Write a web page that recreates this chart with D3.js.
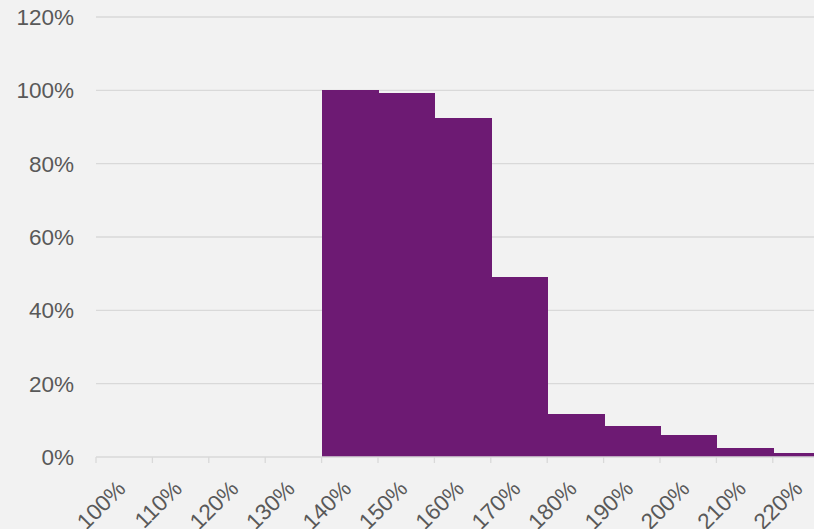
<!DOCTYPE html>
<html>
<head>
<meta charset="utf-8">
<script src="https://cdn.jsdelivr.net/npm/d3@7"></script>
<style>
  body { margin: 0; background: #f2f2f2; }
  text { font-family: "Liberation Sans", Arial, sans-serif; fill: #595959; }
</style>
</head>
<body>
<script>
var width = 814, height = 529;

// bins (lower edge, %) and share of cases (%)
var binStarts = [140, 150, 160, 170, 180, 190, 200, 210, 220];
var binValues = [100, 99.2, 92.4, 49.1, 11.7, 8.4, 6.0, 2.5, 1.1];
var xTicks = [100, 110, 120, 130, 140, 150, 160, 170, 180, 190, 200, 210, 220];
var yTicks = [0, 20, 40, 60, 80, 100, 120];

var svg = d3.select("body")
    .append("svg")
    .attr("width", width)
    .attr("height", height);

svg.append("rect")
    .attr("width", width)
    .attr("height", height)
    .attr("fill", "#f2f2f2");

var x = d3.scaleLinear()
    .domain([100, 230])
    .range([96, 96 + 13 * 56.4]);

var y = d3.scaleLinear()
    .domain([0, 120])
    .range([457, 17]);

// gridlines
svg.append("g")
    .selectAll("line")
    .data(yTicks.filter(function (d) { return d > 0; }))
    .enter()
    .append("line")
    .attr("x1", x(100))
    .attr("x2", width)
    .attr("y1", function (d) { return y(d); })
    .attr("y2", function (d) { return y(d); })
    .attr("stroke", "#d9d9d9")
    .attr("stroke-width", 1.3);

// y labels
svg.append("g")
    .selectAll("text")
    .data(yTicks)
    .enter()
    .append("text")
    .attr("x", 74)
    .attr("y", function (d) { return y(d); })
    .attr("dy", "0.35em")
    .attr("text-anchor", "end")
    .style("font-size", "22.5px")
    .text(function (d) { return d + "%"; });

// bars
svg.append("g")
    .attr("shape-rendering", "crispEdges")
    .selectAll("rect")
    .data(binStarts)
    .enter()
    .append("rect")
    .attr("x", function (d) { return x(d); })
    .attr("width", function (d) { return x(d + 10) - x(d) + 1; })
    .attr("y", function (d, i) { return y(binValues[i]); })
    .attr("height", function (d, i) { return y(0) - y(binValues[i]); })
    .attr("fill", "#6d1a73");

// x axis line and ticks
svg.append("line")
    .attr("x1", x(100))
    .attr("x2", width)
    .attr("y1", y(0))
    .attr("y2", y(0))
    .attr("stroke", "#d9d9d9")
    .attr("stroke-width", 1.3);

svg.append("g")
    .selectAll("line")
    .data(xTicks)
    .enter()
    .append("line")
    .attr("x1", function (d) { return x(d); })
    .attr("x2", function (d) { return x(d); })
    .attr("y1", y(0))
    .attr("y2", y(0) + 6)
    .attr("stroke", "#d9d9d9")
    .attr("stroke-width", 1.3);

svg.append("g")
    .selectAll("text")
    .data(xTicks)
    .enter()
    .append("text")
    .attr("transform", function (d) { return "translate(" + (x(d) + 31) + "," + 490 + ") rotate(-45)"; })
    .attr("text-anchor", "end")
    .style("font-size", "22.5px")
    .text(function (d) { return d + "%"; });
</script>
</body>
</html>
